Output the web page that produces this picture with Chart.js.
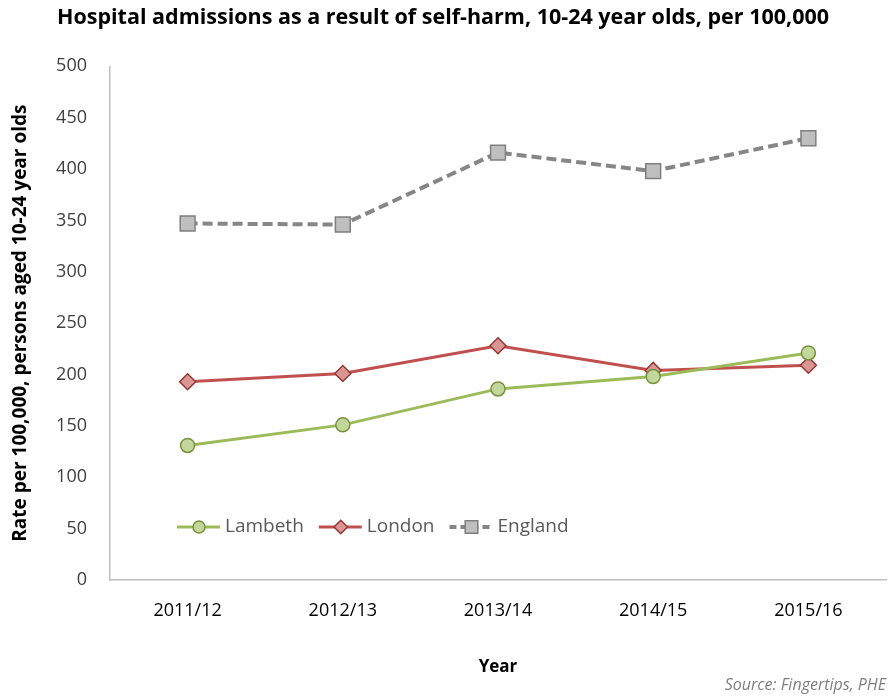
<!DOCTYPE html>
<html>
<head>
<meta charset="utf-8">
<script src="https://cdn.jsdelivr.net/npm/chart.js@4/dist/chart.umd.min.js"></script>
<style>
  html, body { margin: 0; padding: 0; background: #fff; }
  #wrap { width: 893px; height: 700px; position: relative; }
</style>
</head>
<body>
<div id="wrap"><canvas id="linechart"></canvas></div>
<script>
const years = ['2011/12', '2012/13', '2013/14', '2014/15', '2015/16'];
const lambeth = [131, 151, 186, 198, 221];
const london = [193, 201, 228, 204, 209];
const england = [347, 346, 416, 398, 430];
const yTicks = [0, 50, 100, 150, 200, 250, 300, 350, 400, 450, 500];

const FONT = '"Open Sans", "DejaVu Sans", sans-serif';

function drawMarker(ctx, style, r, x, y) {
  if (style === 'circle') {
    ctx.arc(x, y, r, 0, Math.PI * 2);
  } else if (style === 'rectRot') {
    ctx.moveTo(x, y - r); ctx.lineTo(x + r, y); ctx.lineTo(x, y + r); ctx.lineTo(x - r, y); ctx.closePath();
  } else {
    const s = r * Math.SQRT1_2;
    ctx.rect(x - s, y - s, 2 * s, 2 * s);
  }
}

// legend sits inside the plot, near the bottom left
const insideLegend = {
  id: 'insideLegend',
  afterDatasetsDraw(chart) {
    const ctx = chart.ctx;
    const area = chart.chartArea;
    let x = area.left + 67;
    const y = area.bottom - 53;
    ctx.save();
    ctx.font = '19px ' + FONT;
    ctx.textBaseline = 'middle';
    chart.data.datasets.forEach(ds => {
      ctx.strokeStyle = ds.borderColor;
      ctx.lineWidth = ds.borderWidth;
      ctx.setLineDash(ds.borderDash ? [7, 4] : []);
      ctx.beginPath();
      ctx.moveTo(x, y);
      ctx.lineTo(x + 43, y);
      ctx.stroke();
      ctx.setLineDash([]);
      ctx.fillStyle = ds.pointBackgroundColor;
      ctx.strokeStyle = ds.pointBorderColor;
      ctx.lineWidth = ds.pointBorderWidth;
      ctx.beginPath();
      drawMarker(ctx, ds.pointStyle, ds.pointRadius * 0.85, x + 22, y);
      ctx.fill();
      ctx.stroke();
      ctx.fillStyle = '#595959';
      ctx.textAlign = 'left';
      ctx.fillText(ds.label, x + 48, y);
      x += 48 + ctx.measureText(ds.label).width + 15;
    });
    ctx.restore();
  },
  afterDraw(chart) {
    const ctx = chart.ctx;
    ctx.save();
    ctx.font = 'italic 16px ' + FONT;
    ctx.fillStyle = '#7f7f7f';
    ctx.textAlign = 'right';
    ctx.textBaseline = 'middle';
    ctx.fillText('Source: Fingertips, PHE', chart.width - 7, 685);
    ctx.restore();
  }
};

new Chart(document.getElementById('linechart'), {
  type: 'line',
  data: {
    labels: years,
    datasets: [{
      label: 'Lambeth',
      data: lambeth,
      borderColor: '#9bbb59',
      borderWidth: 3,
      pointStyle: 'circle',
      pointRadius: 7,
      pointHoverRadius: 7,
      pointBackgroundColor: '#c3d69b',
      pointBorderColor: '#77933c',
      pointBorderWidth: 1.5,
      tension: 0
    }, {
      label: 'London',
      data: london,
      borderColor: '#c0504d',
      borderWidth: 3,
      pointStyle: 'rectRot',
      pointRadius: 8,
      pointHoverRadius: 8,
      pointBackgroundColor: '#d99694',
      pointBorderColor: '#953735',
      pointBorderWidth: 1.5,
      tension: 0
    }, {
      label: 'England',
      data: england,
      borderColor: '#868686',
      borderWidth: 4,
      borderDash: [10, 5],
      pointStyle: 'rect',
      pointRadius: 10.5,
      pointHoverRadius: 10.5,
      pointBackgroundColor: '#bfbfbf',
      pointBorderColor: '#7f7f7f',
      pointBorderWidth: 1.5,
      tension: 0
    }]
  },
  options: {
    responsive: true,
    maintainAspectRatio: false,
    animation: false,
    layout: { autoPadding: false, padding: { left: 0, right: 7, top: 0, bottom: 0 } },
    plugins: {
      legend: { display: false },
      tooltip: { enabled: false },
      title: {
        display: true,
        text: 'Hospital admissions as a result of self-harm, 10-24 year olds, per 100,000',
        color: '#000',
        font: { family: FONT, size: 21.5, weight: 'bold' },
        padding: { top: 5, bottom: 35.5 }
      }
    },
    scales: {
      x: {
        offset: true,
        grid: { display: false },
        border: { display: true, color: '#bfbfbf', width: 1.5 },
        ticks: {
          color: '#000',
          font: { family: FONT, size: 18 },
          padding: 12,
          maxRotation: 0
        },
        title: {
          display: true,
          text: 'Year',
          color: '#000',
          font: { family: FONT, size: 17, weight: 'bold' },
          padding: { top: 0, bottom: 23 }
        },
        afterFit(scale) {
          scale.height = 120;
          scale.paddingLeft = 0;
          scale.paddingRight = 0;
        }
      },
      y: {
        min: 0,
        max: 500,
        afterBuildTicks(scale) { scale.ticks = yTicks.map(v => ({ value: v })); },
        grid: { display: false },
        border: { display: true, color: '#bfbfbf', width: 1.5 },
        ticks: {
          color: '#404040',
          font: { family: FONT, size: 18 },
          padding: 15
        },
        title: {
          display: true,
          text: 'Rate per 100,000, persons aged 10-24 year olds',
          color: '#000',
          font: { family: FONT, size: 19, weight: 'bold' },
          padding: { top: 9, bottom: 0 }
        },
        afterFit(scale) { scale.width = 110; }
      }
    }
  },
  plugins: [insideLegend]
});
</script>
</body>
</html>
